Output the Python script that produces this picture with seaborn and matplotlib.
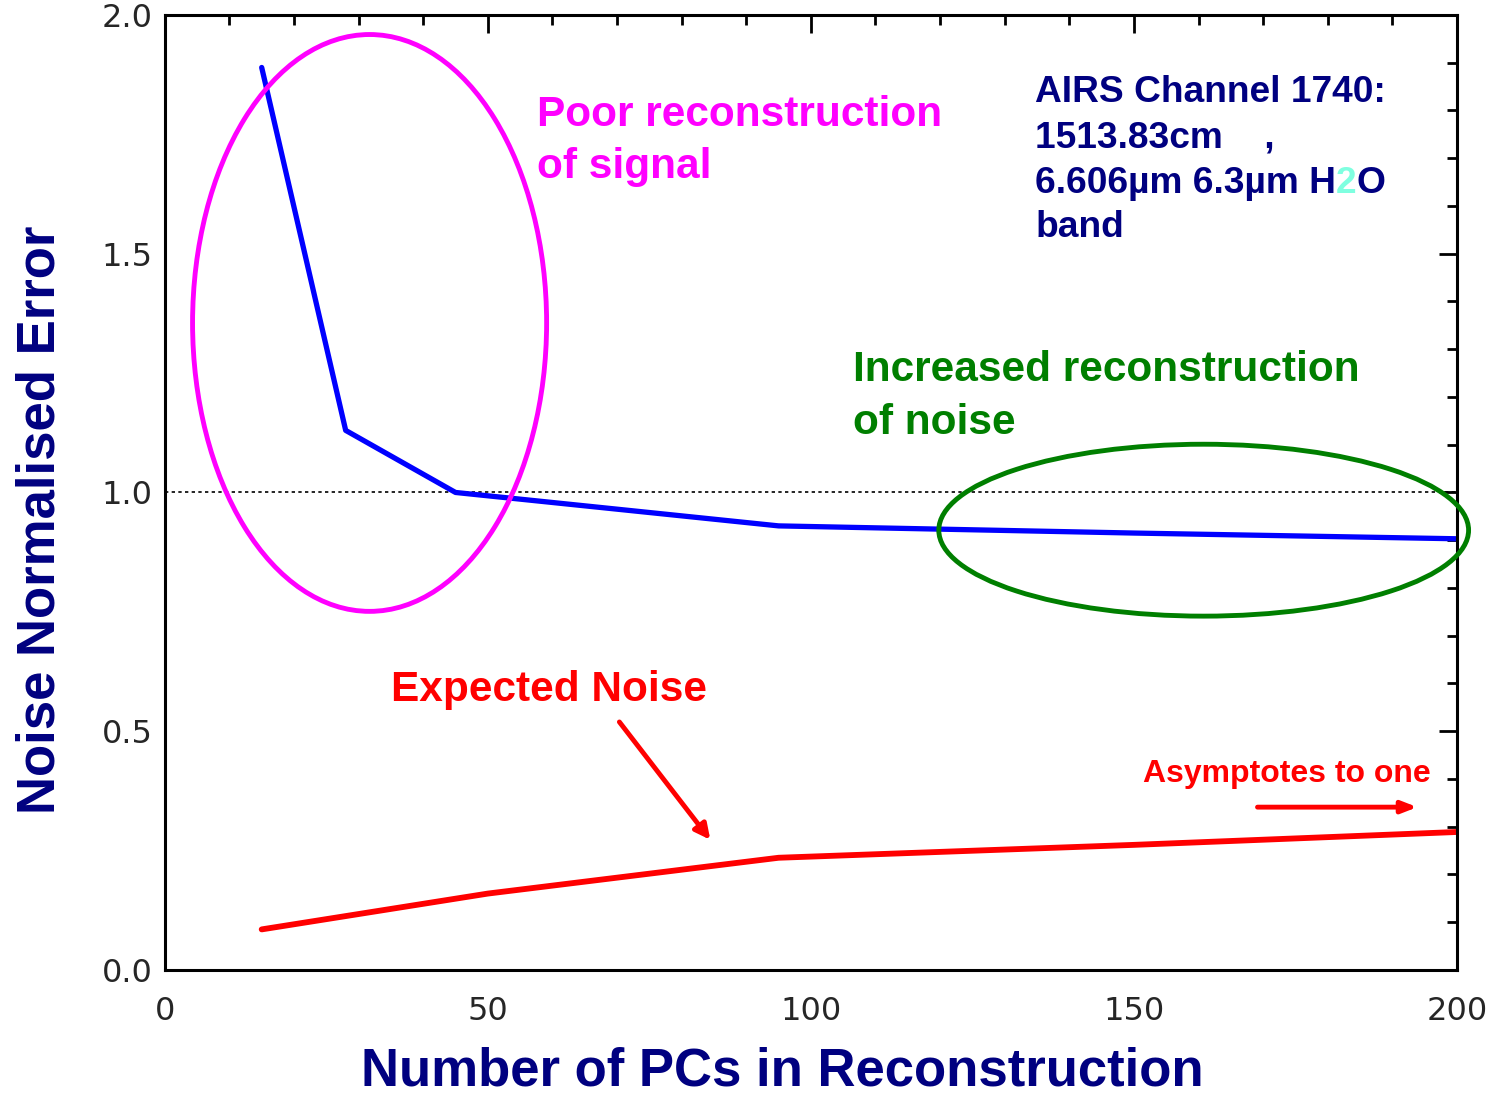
import matplotlib
matplotlib.use("Agg")
import matplotlib.pyplot as plt
from matplotlib.patches import Ellipse
import pandas as pd
import seaborn as sns

# values
n_pcs_recon = [15, 28, 45, 95, 150, 200]
recon_error = [1.89, 1.13, 1.00, 0.93, 0.915, 0.903]
n_pcs_noise = [15, 50, 95, 150, 200]
expected_noise = [0.085, 0.16, 0.235, 0.262, 0.289]

x_ticks = [0, 50, 100, 150, 200]
y_ticks = [0.0, 0.5, 1.0, 1.5, 2.0]

navy = "#000080"

sns.set_style("white")
plt.rcParams['font.family'] = ['Liberation Sans', 'DejaVu Sans']

recon = pd.DataFrame({"pcs": n_pcs_recon, "err": recon_error})
noise = pd.DataFrame({"pcs": n_pcs_noise, "err": expected_noise})

fig = plt.figure(figsize=(14.98, 10.99), dpi=100)
ax = fig.add_axes([0.110, 0.1174, 0.8626, 0.869])

ax.axhline(1.0, color="black", lw=1.2, ls=(0, (2, 2)), zorder=1)
sns.lineplot(data=recon, x="pcs", y="err", color="#0000ff", lw=3.8, ax=ax)
sns.lineplot(data=noise, x="pcs", y="err", color="#ff0000", lw=4.2, ax=ax)

ax.set_xlim(0, 200)
ax.set_ylim(0, 2.0)
ax.set_xticks(x_ticks)
ax.set_xticklabels([str(v) for v in x_ticks])
ax.set_yticks(y_ticks)
ax.set_yticklabels([f"{v:.1f}" for v in y_ticks])
ax.set_xticks(range(0, 201, 10), minor=True)
ax.set_yticks([i / 10 for i in range(21)], minor=True)
for lab in ax.get_xticklabels() + ax.get_yticklabels():
    lab.set_family("DejaVu Sans")
    lab.set_fontsize(23)
ax.tick_params(which="both", direction="in", top=True, right=True, width=2, color="black")
ax.tick_params(which="major", length=13)
ax.tick_params(which="minor", length=7)
ax.tick_params(axis="x", which="major", pad=19)
ax.tick_params(axis="y", which="major", pad=9)
for s in ax.spines.values():
    s.set_linewidth(2.2)
    s.set_color("black")

ax.set_xlabel("Number of PCs in Reconstruction", fontsize=38, fontweight="bold", color=navy)
ax.set_ylabel("Noise Normalised Error", fontsize=38, fontweight="bold", color=navy)
ax.xaxis.set_label_coords(0.4776, -0.080)
ax.yaxis.set_label_coords(-0.077, 0.471)

# ellipses
ax.add_patch(Ellipse((31.7, 1.355), 54.8, 1.208, fill=False, ec="#ff00ff", lw=3.5, clip_on=False, zorder=3))
ax.add_patch(Ellipse((160.8, 0.921), 82.0, 0.360, fill=False, ec="#007f00", lw=3.5, clip_on=False, zorder=3))

# annotations
ax.text(57.6, 1.791, "Poor reconstruction", color="#ff00ff", fontsize=30.5, fontweight="bold", va="center")
ax.text(57.6, 1.682, "of signal", color="#ff00ff", fontsize=30.5, fontweight="bold", va="center")
ax.text(106.5, 1.257, "Increased reconstruction", color="#007f00", fontsize=30.5, fontweight="bold", va="center")
ax.text(106.5, 1.146, "of noise", color="#007f00", fontsize=30.5, fontweight="bold", va="center")
ax.text(35.0, 0.586, "Expected Noise", color="#ff0000", fontsize=30.5, fontweight="bold", va="center")
ax.text(151.4, 0.410, "Asymptotes to one", color="#ff0000", fontsize=23, fontweight="bold", va="center")

ax.annotate("", xy=(84.7, 0.268), xytext=(70.1, 0.524),
            arrowprops=dict(arrowstyle="-|>,head_length=0.9,head_width=0.45", color="#ff0000", lw=3.5))
ax.annotate("", xy=(194.3, 0.341), xytext=(168.7, 0.341),
            arrowprops=dict(arrowstyle="-|>,head_length=0.9,head_width=0.35", color="#ff0000", lw=3.5))

info = dict(color=navy, fontsize=26.7, fontweight="bold", va="center")
ax.text(134.7, 1.837, "AIRS Channel 1740:", **info)
ax.text(134.7, 1.743, "1513.83cm    ,", **info)
t1 = ax.text(134.7, 1.648, "6.606\u00b5m 6.3\u00b5m H", **info)
t2 = ax.annotate("2", xy=(1, 0), xycoords=t1, va="bottom", ha="left",
                 color="#7fffe0", fontsize=26.7, fontweight="bold")
ax.annotate("O", xy=(1, 0), xycoords=t2, va="bottom", ha="left",
            color=navy, fontsize=26.7, fontweight="bold")
ax.text(134.7, 1.554, "band", **info)

fig.savefig("out.png", dpi=100)
